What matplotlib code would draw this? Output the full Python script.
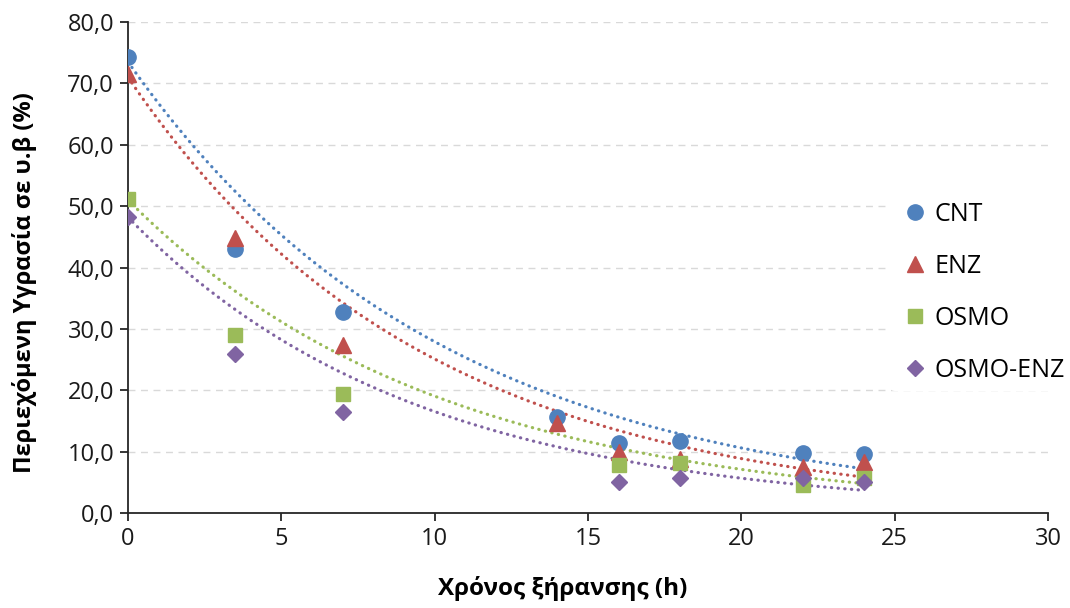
import numpy as np
import matplotlib.pyplot as plt
from matplotlib.ticker import FuncFormatter, MultipleLocator

plt.rcParams['font.family'] = ['Open Sans', 'DejaVu Sans']

# Drying time (h) and moisture content (% d.b.) for each treatment
t_cnt = [0, 3.5, 7, 14, 16, 18, 22, 24]
cnt = [74.3, 43.0, 32.7, 15.6, 11.4, 11.7, 9.8, 9.6]

t_enz = [0, 3.5, 7, 14, 16, 18, 22, 24]
enz = [71.5, 44.8, 27.3, 14.7, 10.0, 8.8, 7.5, 8.3]

t_osmo = [0, 3.5, 7, 16, 18, 22, 24]
osmo = [51.1, 29.0, 19.4, 7.8, 8.1, 4.6, 5.7]

t_osmo_enz = [0, 3.5, 7, 16, 18, 22, 24]
osmo_enz = [48.3, 25.9, 16.5, 5.1, 5.7, 5.7, 5.0]

# exponential trendlines y = a*exp(-k*t)
trend_a = [73.5, 71.0, 51.0, 48.2]
trend_k = [0.0968, 0.104, 0.0985, 0.107]

names = ['CNT', 'ENZ', 'OSMO', 'OSMO-ENZ']
times = [t_cnt, t_enz, t_osmo, t_osmo_enz]
values = [cnt, enz, osmo, osmo_enz]
markers = ['o', '^', 's', 'D']
colors = ['#4F81BD', '#C0504D', '#9BBB59', '#8064A2']
sizes = [11, 11, 10.5, 8]

fig = plt.figure(figsize=(10.7, 6.08), dpi=100)
ax = fig.add_axes([0.1196, 0.1562, 0.8598, 0.8076])

for name, t, y, a, k, marker, color, ms in zip(names, times, values, trend_a,
                                               trend_k, markers, colors, sizes):
    tt = np.linspace(min(t), max(t), 200)
    ax.plot(tt, a * np.exp(-k * tt), color=color, lw=2.3,
            linestyle=(0, (0.1, 2.0)), dash_capstyle='round', zorder=2)
    ax.plot(t, y, linestyle='none', marker=marker, color=color,
            markersize=ms, label=name, zorder=3)

ax.set_xlim(0, 30)
ax.set_ylim(0, 80)
ax.xaxis.set_major_locator(MultipleLocator(5))
ax.yaxis.set_major_locator(MultipleLocator(10))
ax.yaxis.set_major_formatter(FuncFormatter(lambda v, p: f'{v:.1f}'.replace('.', ',')))

ax.grid(axis='y', color='#D9D9D9', linestyle=(0, (5, 4)), lw=1)
ax.set_axisbelow(True)
for s in ['top', 'right']:
    ax.spines[s].set_visible(False)
for s in ['left', 'bottom']:
    ax.spines[s].set_color('#262626')
    ax.spines[s].set_linewidth(1.3)
ax.tick_params(axis='both', direction='out', length=6, width=1.3,
               color='#262626', labelsize=17, labelcolor='#1a1a1a', pad=4)

ax.set_xlabel('Χρόνος ξήρανσης (h)', fontsize=17.5, fontweight='bold')
ax.set_ylabel('Περιεχόμενη Υγρασία σε υ.β (%)', fontsize=17, fontweight='bold')
ax.xaxis.set_label_coords(0.473, -0.128)
ax.yaxis.set_label_coords(-0.099, 0.469)

leg = ax.legend(loc='upper left', bbox_to_anchor=(0.815, 0.674), frameon=True,
                facecolor='white', edgecolor='none', framealpha=1, fontsize=18,
                handletextpad=0.05, labelspacing=1.08, borderpad=0.3, handlelength=1.4)

fig.savefig('out.png', dpi=100)
